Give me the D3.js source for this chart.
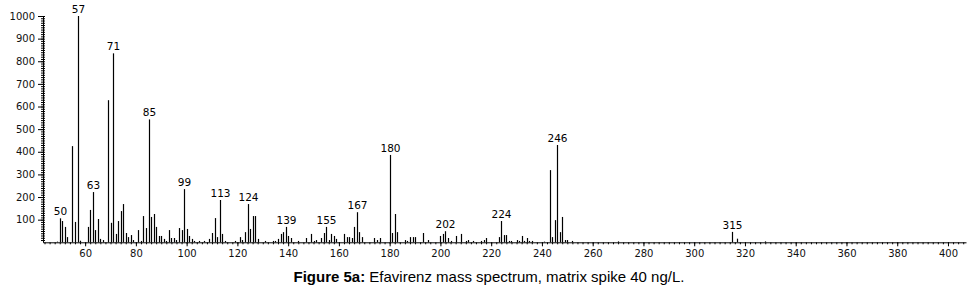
<!DOCTYPE html>
<html>
<head>
<meta charset="utf-8">
<script src="https://cdn.jsdelivr.net/npm/d3@7"></script>
<style>
  body { margin: 0; background: #fff; }
  svg { display: block; }
</style>
</head>
<body>
<script>
// m/z values and relative abundances
const masses = [49, 50, 51, 52, 53, 55, 56, 57, 58, 61, 62, 63, 64, 65, 66, 67, 69, 70, 71, 72,
    73, 74, 75, 76, 77, 78, 79, 81, 82, 83, 84, 85, 86, 87, 88, 89, 90, 91, 92, 93,
    94, 95, 96, 97, 98, 99, 100, 101, 102, 103, 105, 107, 109, 110, 111, 112, 113, 114, 115, 119,
    121, 122, 123, 124, 125, 126, 127, 128, 131, 134, 135, 136, 137, 138, 139, 140, 141, 144, 147, 149,
    150, 151, 153, 154, 155, 156, 157, 158, 159, 162, 163, 164, 165, 166, 167, 168, 169, 174, 175, 176,
    180, 181, 182, 183, 186, 187, 188, 189, 190, 193, 195, 200, 201, 202, 203, 204, 206, 208, 210, 211,
    213, 216, 217, 218, 223, 224, 225, 226, 227, 228, 230, 231, 232, 233, 234, 235, 236, 241, 243, 244,
    245, 246, 247, 248, 249, 250, 252, 270, 315, 317, 328];
const abundances = [3, 106, 94, 68, 23, 425, 90, 1000, 7, 68, 143, 222, 54, 103, 15, 10, 628, 86, 835, 37,
    94, 138, 169, 41, 23, 32, 10, 54, 6, 116, 63, 543, 112, 125, 68, 28, 28, 15, 6, 54,
    19, 19, 10, 63, 54, 235, 59, 28, 15, 6, 6, 6, 15, 41, 107, 23, 187, 37, 6, 6,
    23, 10, 45, 169, 59, 116, 116, 15, 6, 6, 6, 15, 37, 45, 68, 28, 19, 6, 19, 37,
    6, 10, 19, 41, 68, 10, 37, 28, 15, 37, 23, 23, 19, 68, 133, 45, 23, 19, 10, 19,
    386, 41, 125, 45, 10, 6, 23, 23, 23, 41, 10, 28, 37, 49, 19, 6, 28, 37, 6, 10,
    6, 6, 10, 19, 23, 94, 32, 32, 6, 6, 10, 6, 28, 6, 19, 6, 6, 3, 319, 23,
    98, 430, 45, 112, 10, 10, 6, 4, 46, 16, 4];

// peaks that carry an m/z label
const labelled = [50, 57, 63, 71, 85, 99, 113, 124, 139, 155, 167, 180, 202, 224, 246, 315];

const xTicks = d3.range(60, 401, 20);
const yTicks = d3.range(100, 1001, 100);

const peaks = masses.map((m, i) => ({mz: m, value: abundances[i]}));

const fullWidth = 972, fullHeight = 287;
const margin = {top: 16, right: 6, bottom: 44.7, left: 43};
const width = fullWidth - margin.left - margin.right;
const height = fullHeight - margin.top - margin.bottom;

const xScale = d3.scaleLinear()
    .domain([43.4, 407.1])
    .range([0, width]);
const yScale = d3.scaleLinear()
    .domain([0, 1000])
    .range([height, 0]);

const svgRoot = d3.select('body')
    .append('svg')
    .attr('width', fullWidth)
    .attr('height', fullHeight);

const svg = svgRoot.append('g')
    .attr('transform', 'translate(' + margin.left + ',' + margin.top + ')');

// minor ticks along the x axis (every 2 units)
svg.append('g')
    .attr('class', 'x-minor')
    .attr('transform', 'translate(0,' + height + ')')
    .call(d3.axisBottom(xScale)
        .tickValues(d3.range(44, 407, 2))
        .tickSize(2)
        .tickFormat(''));

// major x axis
svg.append('g')
    .attr('class', 'x-axis')
    .attr('transform', 'translate(0,' + height + ')')
    .call(d3.axisBottom(xScale)
        .tickValues(xTicks)
        .tickSize(4)
        .tickSizeOuter(0)
        .tickPadding(4)
        .tickFormat(d3.format('d')));

// minor ticks on the y axis (every 10 units), drawn across the axis line
svg.append('g')
    .attr('class', 'y-minor')
    .attr('transform', 'translate(2,0)')
    .call(d3.axisLeft(yScale)
        .tickValues(d3.range(10, 1001, 10))
        .tickSize(4)
        .tickFormat(''));

svg.append('g')
    .attr('class', 'y-axis')
    .call(d3.axisLeft(yScale)
        .tickValues(yTicks)
        .tickSize(5)
        .tickSizeOuter(0)
        .tickPadding(3)
        .tickFormat(d3.format('d')));

svg.selectAll('.domain').attr('stroke', '#000');
svg.selectAll('.x-minor .domain, .y-minor .domain').remove();
svg.selectAll('.tick line').attr('stroke', '#000');
svg.selectAll('.x-axis text, .y-axis text')
    .style('font-family', 'DejaVu Sans, Verdana, sans-serif')
    .style('font-size', '10px')
    .attr('fill', '#111');

// stick spectrum
svg.append('g')
    .attr('class', 'peaks')
    .selectAll('line')
    .data(peaks)
    .enter()
    .append('line')
    .attr('x1', d => Math.round(xScale(d.mz)) + 0.5)
    .attr('x2', d => Math.round(xScale(d.mz)) + 0.5)
    .attr('y1', yScale(0))
    .attr('y2', d => yScale(d.value))
    .attr('stroke', '#000')
    .attr('stroke-width', 1.2);

// peak labels
svg.append('g')
    .attr('class', 'peak-labels')
    .selectAll('text')
    .data(peaks.filter(d => labelled.includes(d.mz)))
    .enter()
    .append('text')
    .attr('x', d => Math.round(xScale(d.mz)) + 0.5)
    .attr('y', d => yScale(d.value) - 3)
    .attr('text-anchor', 'middle')
    .style('font-family', 'DejaVu Sans, Verdana, sans-serif')
    .style('font-size', '10.5px')
    .attr('fill', '#000')
    .text(d => d.mz);

// caption
const caption = svgRoot.append('text')
    .attr('x', 489)
    .attr('y', 282)
    .attr('text-anchor', 'middle')
    .style('font-family', 'Liberation Sans, Arial, sans-serif')
    .style('font-size', '15px')
    .attr('fill', '#000');
caption.append('tspan').style('font-weight', 'bold').text('Figure 5a:');
caption.append('tspan').text(' Efavirenz mass spectrum, matrix spike 40 ng/L.');
</script>
</body>
</html>
